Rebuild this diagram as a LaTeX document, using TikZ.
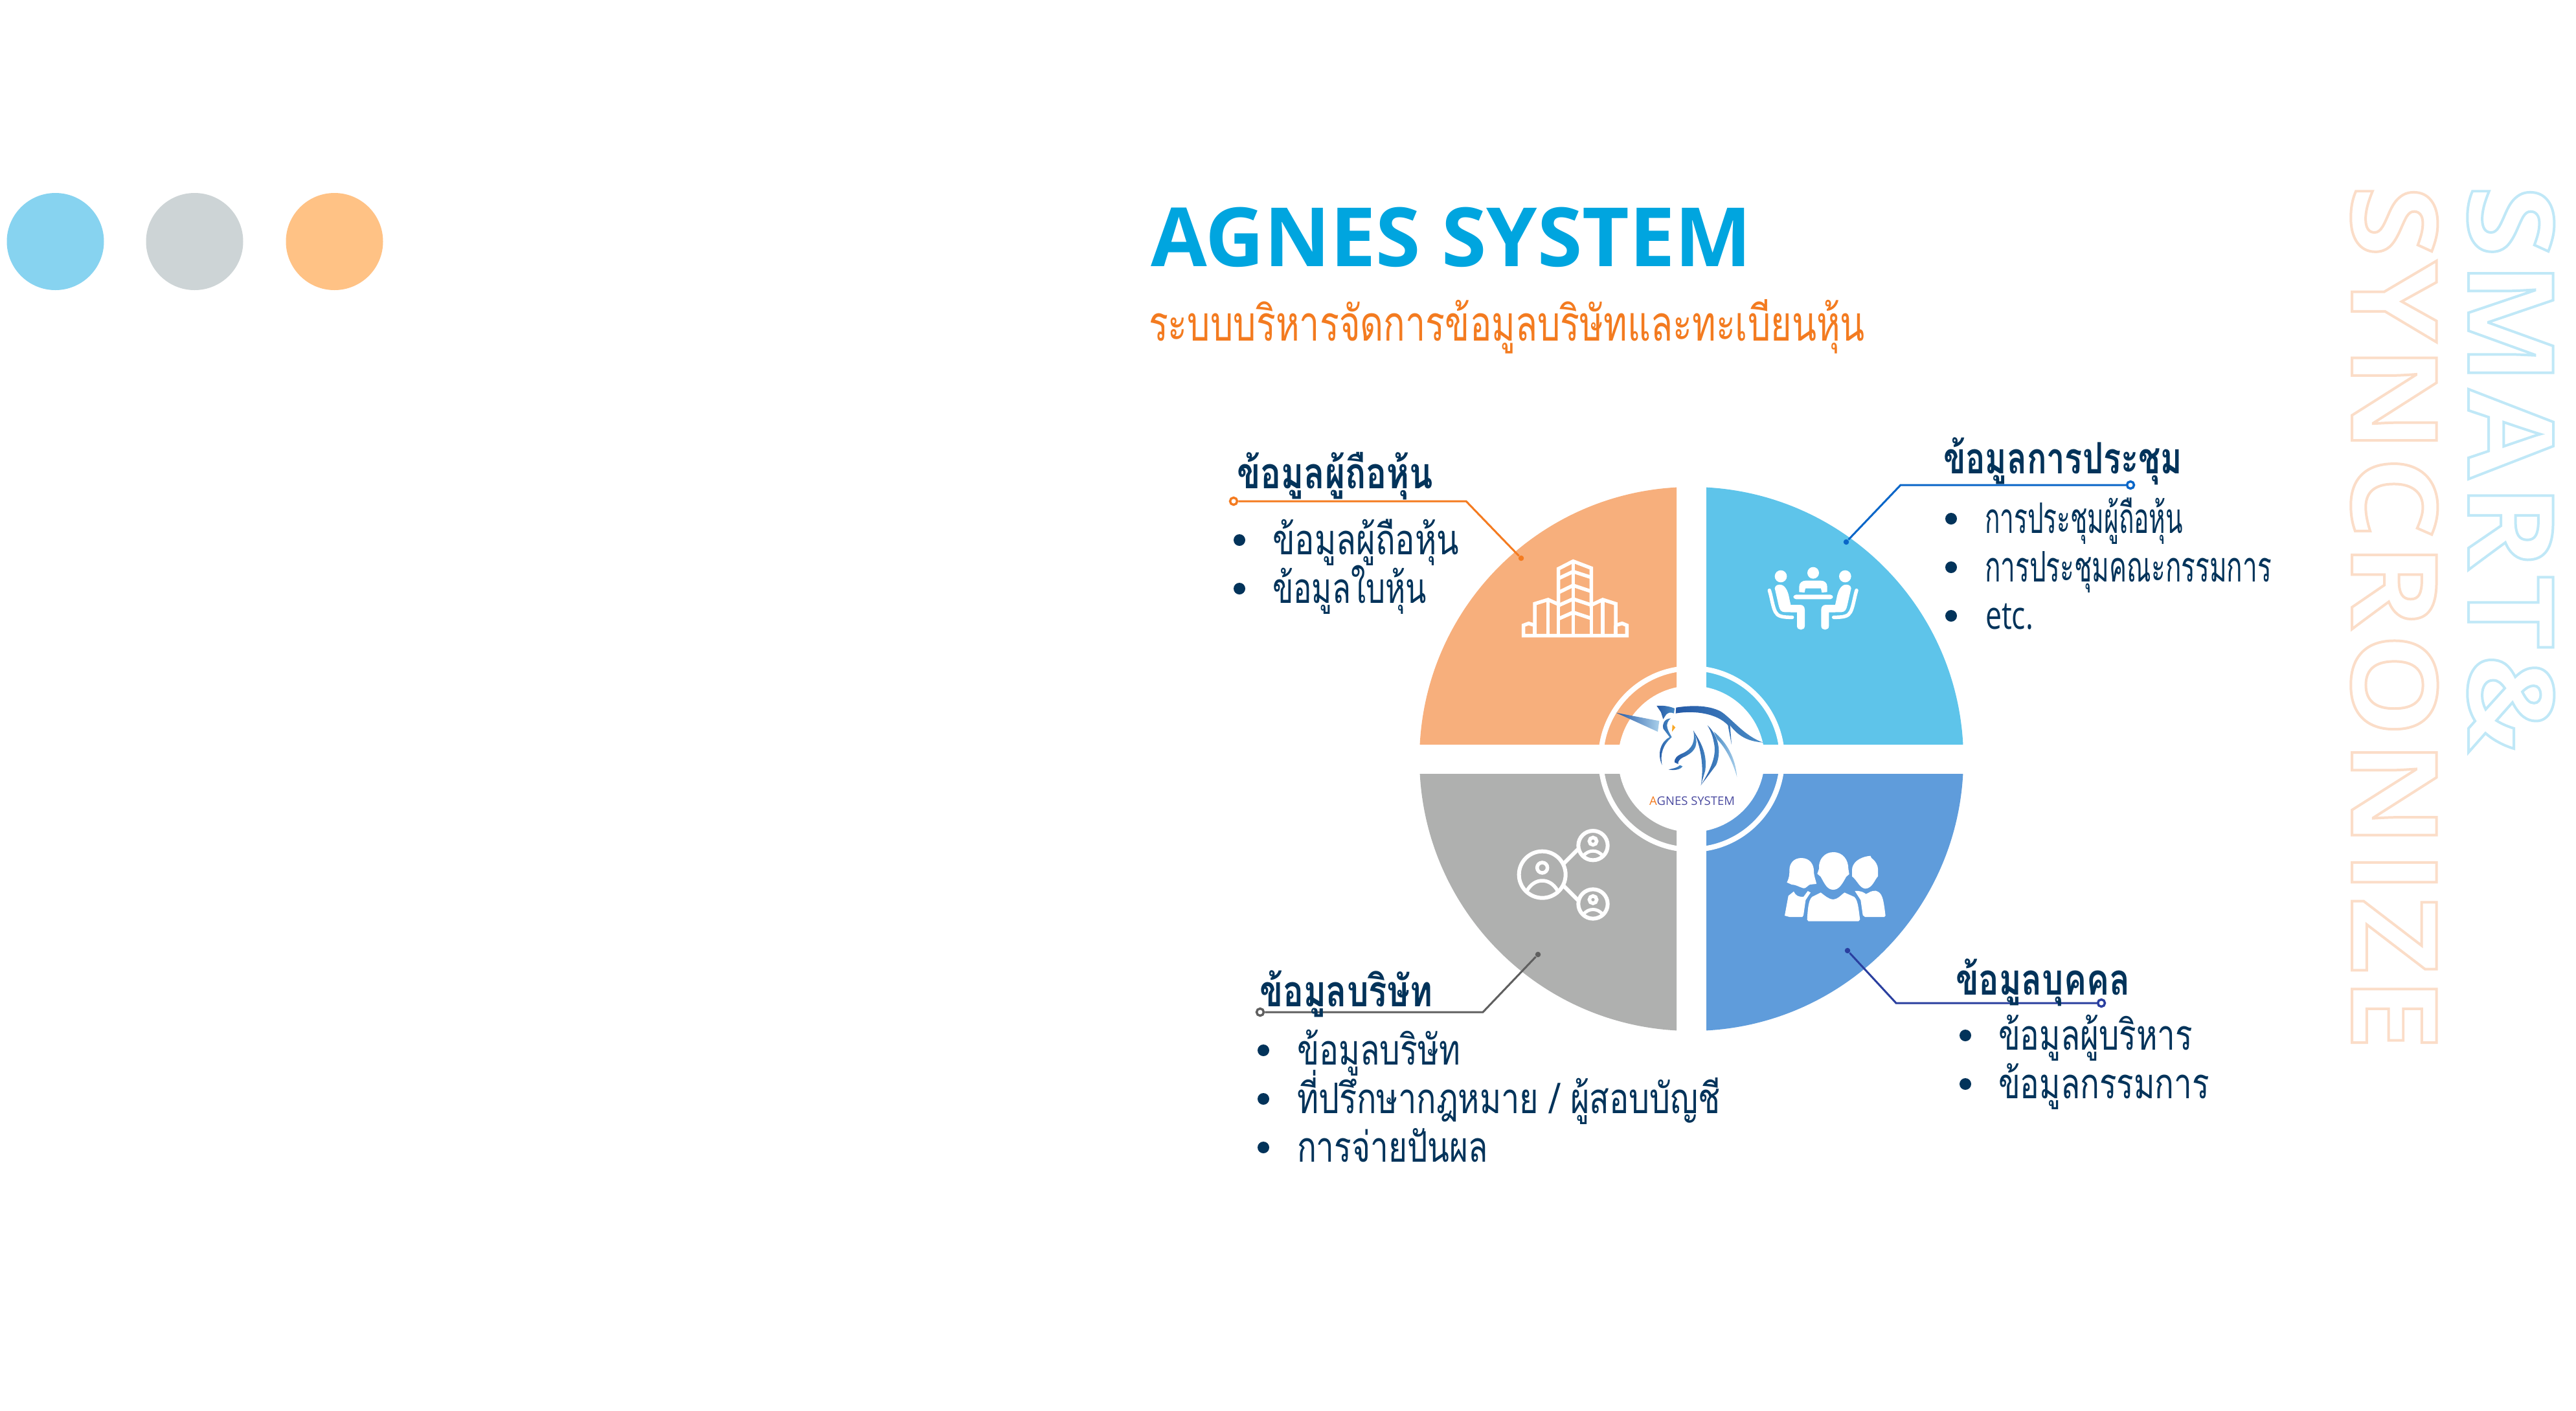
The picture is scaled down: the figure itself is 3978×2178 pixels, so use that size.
\documentclass[tikz,border=0pt]{standalone}
\usepackage{graphicx}
\usepackage{fontspec}
\setmainfont{Open Sans}
\newfontfamily\thaifont[Script=Thai]{Loma}
\newfontfamily\sideA[LetterSpace=4,FakeStretch=1.1]{Open Sans}
\newfontfamily\sideB[LetterSpace=3.4,FakeStretch=1.1]{Open Sans}
\newdimen\pxu \pxu=0.01cm
\definecolor{navy}{HTML}{02335A}
\definecolor{titleBlue}{HTML}{00A5DF}
\definecolor{subOrange}{HTML}{F37B20}
\definecolor{logoPurple}{HTML}{4B4BA0}
\definecolor{secOrange}{HTML}{F7AF7C}
\definecolor{secCyan}{HTML}{5EC4EA}
\definecolor{secBlue}{HTML}{5F9CDB}
\definecolor{secGray}{HTML}{AFB0AF}
\definecolor{lnOrange}{HTML}{F47B20}
\definecolor{lnBlue}{HTML}{0A66C8}
\definecolor{lnIndigo}{HTML}{2A3F9F}
\definecolor{lnGray}{HTML}{5F5F5F}
\definecolor{uniD}{HTML}{2459A6}
\definecolor{uniM}{HTML}{4A8CC6}
\definecolor{uniL}{HTML}{A9CFEA}
\definecolor{dotCyan}{HTML}{87D3F0}
\definecolor{dotGray}{HTML}{CDD4D6}
\definecolor{dotOrange}{HTML}{FFC285}
\definecolor{eyeAmber}{HTML}{F9A825}
\tikzset{
  txt/.style={anchor=base west,inner sep=0pt,outer sep=0pt},
  bulletdot/.style={circle,fill=navy,draw=none,inner sep=0pt,minimum size=0.18cm},
  ringend/.style={circle,draw=#1,fill=white,line width=0.035cm,inner sep=0pt,minimum size=0.11cm},
  enddot/.style={circle,fill=#1,draw=none,inner sep=0pt,minimum size=0.085cm},
  conn/.style={draw=#1,line width=0.03cm,line join=miter},
  icon/.style={draw=white,line width=0.055cm,line join=miter,fill=none},
  uni/.style={draw=none,left color=uniD,right color=uniM},
}
\newcommand{\tx}[6]{\node[txt,text=#5] (#1) at (#2,#3) {\resizebox{#4\pxu}{\height}{#6}};}
% Thai text: Loma's side bearings and baseline are offset by a few px from the reference
\newcommand{\thx}[7]{\node[txt,text=#5,xshift=-0.03cm,yshift=-0.03cm] (#1) at (#2,#3) {\resizebox{\dimexpr#4\pxu+6\pxu\relax}{\height}{\thaifont#6\selectfont #7}};}
\begin{document}
\begin{tikzpicture}[x=0.01cm,y=-0.01cm]
\useasboundingbox (0,0) rectangle (3978,2178);
% top-left dots
\fill[fill=white] (0,0) rectangle (3978,2178);
\fill[dotCyan] (85.5,373) circle[radius=75];
\fill[dotGray] (300.5,373) circle[radius=75];
\fill[dotOrange] (516.5,373) circle[radius=75];
% title
\tx{title}{1777}{411}{928}{titleBlue}{\bfseries\fontsize{35.9pt}{40pt}\selectfont AGNES SYSTEM}
\thx{subtitle}{1777}{523}{1100}{subOrange}{\fontsize{21.5pt}{24pt}}{ระบบบริหารจัดการข้อมูลบริษัทและทะเบียนหุ้น}
% side outline words
\node[txt,rotate=-90] (sideone) at (3812,286) {\special{pdf:literal direct 1 Tr 1.13 w 0.753 0.91 0.969 RG}\sideA\bfseries\fontsize{52pt}{60pt}\selectfont SMART\&\special{pdf:literal direct 0 Tr}};
\node[txt,rotate=-90] (sidetwo) at (3632,286) {\special{pdf:literal direct 1 Tr 1.13 w 0.984 0.867 0.784 RG}\sideB\bfseries\fontsize{52pt}{60pt}\selectfont SYNCRONIZE\special{pdf:literal direct 0 Tr}};
% quadrants
\begin{scope}\clip (2192,751) rectangle (2589,1149); \fill[secOrange] (2612,1172) circle[radius=420]; \end{scope}
\begin{scope}\clip (2635,751) rectangle (3032,1149); \fill[secCyan] (2612,1172) circle[radius=420]; \end{scope}
\begin{scope}\clip (2192,1195) rectangle (2589,1592); \fill[secGray] (2612,1172) circle[radius=420]; \end{scope}
\begin{scope}\clip (2635,1195) rectangle (3032,1592); \fill[secBlue] (2612,1172) circle[radius=420]; \end{scope}
\draw[white,line width=0.08cm] (2612,1172) circle[radius=140];
\fill[white] (2612,1172) circle[radius=113];
% building icon
\begin{scope}[shift={(2250,800)},scale=0.3333]
\draw[icon] (308,545) -- (787,545) -- (787,497) -- (765,488) -- (735,497) -- (735,397) -- (675,378) -- (622,403) -- (622,232) -- (538,200) -- (470,235) -- (470,400) -- (422,378) -- (360,397) -- (360,497) -- (332,488) -- (308,497) -- cycle;
\draw[icon] (360,497) -- (360,545) (735,497) -- (735,545) (421,378) -- (421,545) (675,378) -- (675,545) (470,400) -- (470,545) (622,403) -- (622,545) (538,200) -- (538,545);
\draw[icon] (470,280) -- (538,248) -- (622,275) (470,345) -- (538,312) -- (622,340) (470,405) -- (538,375) -- (622,403) (470,467) -- (538,437) -- (622,465);
\end{scope}
% meeting icon
\begin{scope}[shift={(2680,820)},scale=0.3333]
\fill[white] (210,210) circle[radius=28] (360,194) circle[radius=27] (508,210) circle[radius=28];
\fill[white,rounded corners=1.2pt] (268,295) rectangle (452,316);
\fill[white] (295,283) -- (295,258) .. controls (295,240) and (310,230) .. (325,230) -- (395,230) .. controls (412,230) and (425,240) .. (425,258) -- (425,283) -- (400,285) -- (396,266) -- (324,266) -- (320,285) -- cycle;
\def\seatpath{(182,265) .. controls (184,250) and (200,246) .. (215,250) .. controls (235,258) and (245,285) .. (250,315) -- (256,342) -- (298,342) .. controls (312,342) and (321,350) .. (321,365) -- (321,440) .. controls (321,463) and (285,463) .. (285,440) -- (285,377) -- (228,376) .. controls (210,375) and (205,365) .. (200,345) -- cycle}
\def\chairpath{(157,275) .. controls (168,310) and (172,350) .. (185,375) .. controls (195,395) and (215,400) .. (263,400)}
\fill[white] \seatpath;
\draw[white,line width=0.055cm,line cap=round] \chairpath;
\begin{scope}[shift={(718,0)},xscale=-1]
\fill[white] \seatpath;
\draw[white,line width=0.055cm,line cap=round] \chairpath;
\end{scope}
\end{scope}
% people icon
\begin{scope}[shift={(2720,1290)},scale=0.3333]
\fill[white] (333,78) .. controls (380,78) and (403,115) .. (403,155) -- (407,180) -- (393,192) .. controls (375,225) and (360,252) .. (333,252) .. controls (305,252) and (293,225) .. (275,192) -- (259,178) -- (267,155) .. controls (263,115) and (290,78) .. (333,78) -- cycle;
\fill[white] (212,390) .. controls (215,340) and (218,300) .. (235,285) -- (275,265) .. controls (295,280) and (310,295) .. (333,297) .. controls (355,295) and (365,280) .. (385,265) -- (430,285) .. controls (448,300) and (450,340) .. (457,390) -- (450,398) -- (218,398) -- cycle;
\fill[white] (185,105) .. controls (225,105) and (243,135) .. (243,165) .. controls (243,190) and (255,215) .. (255,225) -- (225,228) .. controls (215,232) and (205,248) .. (195,245) .. controls (175,240) and (160,228) .. (140,228) -- (118,218) .. controls (130,195) and (130,180) .. (130,160) .. controls (130,130) and (150,105) .. (185,105) -- cycle;
\fill[white] (108,372) -- (125,280) -- (150,260) .. controls (160,280) and (170,285) .. (195,285) -- (215,258) -- (228,265) -- (205,300) -- (195,370) -- (190,378) -- (130,378) -- cycle;
\fill[white] (505,95) -- (510,105) .. controls (530,120) and (540,140) .. (540,155) -- (540,190) .. controls (525,205) and (515,245) .. (482,247) .. controls (455,245) and (445,210) .. (420,190) -- (420,160) .. controls (420,130) and (450,100) .. (505,95) -- cycle;
\fill[white] (433,258) .. controls (460,255) and (475,265) .. (485,272) .. controls (500,265) and (510,255) .. (530,257) .. controls (560,265) and (565,290) .. (575,372) -- (570,378) -- (480,378) -- (470,370) -- (460,300) -- cycle;
\end{scope}
% network icon
\begin{scope}[shift={(2320,1260)},scale=0.3333]
\draw[icon,line width=0.06cm] (185,272) circle[radius=108] (420,137) circle[radius=68] (420,408) circle[radius=68];
\draw[icon,line width=0.06cm] (285,220) -- (350,155) (285,325) -- (350,390);
\draw[icon,line width=0.055cm] (185,240) circle[radius=24] (420,117) circle[radius=17] (420,388) circle[radius=17];
\draw[icon,line width=0.055cm] (115,345) .. controls (150,285) and (220,285) .. (255,345);
\draw[icon,line width=0.05cm] (375,185) .. controls (400,155) and (440,155) .. (465,185);
\draw[icon,line width=0.05cm] (375,456) .. controls (400,426) and (440,426) .. (465,456);
\end{scope}
% unicorn logo
\begin{scope}[shift={(2350,950)},scale=0.3333]
\shade[draw=none,left color=uniD,right color=uniL] (437,452) -- (637,490) -- (630,540) -- cycle;
\shade[uni] (625,420) .. controls (650,418) and (680,420) .. (708,432) -- (705,455) .. controls (690,448) and (675,452) .. (668,462) -- (655,482) -- (645,450) -- cycle;
\shade[uni] (715,428) .. controls (780,418) and (860,415) .. (920,445) .. controls (970,475) and (1030,560) .. (1118,590) .. controls (1060,585) and (1010,570) .. (965,510) -- (972,600) -- (955,510) .. controls (905,455) and (800,440) .. (713,455) -- cycle;
\shade[uni] (690,478) .. controls (660,480) and (650,505) .. (655,525) -- (685,565) .. controls (645,585) and (625,640) .. (650,695) .. controls (640,640) and (655,600) .. (695,565) .. controls (675,530) and (660,505) .. (690,478) -- cycle;
\fill[eyeAmber] (698,507) -- (712,520) -- (696,540) -- cycle;
\shade[uni] (795,535) .. controls (820,590) and (815,630) .. (745,660) .. controls (730,668) and (722,680) .. (725,690) -- (708,682) .. controls (705,665) and (720,650) .. (745,640) .. controls (790,620) and (805,585) .. (795,535) -- cycle;
\shade[uni] (680,715) .. controls (705,710) and (725,705) .. (732,695) -- (745,700) .. controls (735,718) and (700,720) .. (680,715) -- cycle;
\shade[uni] (795,535) .. controls (830,590) and (860,640) .. (850,720) -- (830,788) .. controls (845,700) and (830,610) .. (795,535) -- cycle;
\shade[uni] (860,510) .. controls (915,560) and (925,640) .. (900,695) -- (830,788) .. controls (875,715) and (905,650) .. (890,590) .. controls (885,560) and (875,535) .. (860,510) -- cycle;
\shade[draw=none,left color=uniM,right color=uniL] (890,540) .. controls (950,590) and (990,660) .. (997,750) .. controls (975,670) and (940,610) .. (905,575) -- cycle;
\end{scope}
\tx{logotext}{2547}{1243}{132}{logoPurple}{\fontsize{5.2pt}{6pt}\selectfont \textcolor{lnOrange}{A}GNES SYSTEM}
% connectors
\node[ringend=lnOrange] (endA) at (1905,774) {};
\node[enddot=lnOrange] (dotA) at (2349,862) {};
\coordinate (kneeA) at (2264,774);
\draw[conn=lnOrange] (endA) -- (kneeA) -- (dotA);
\node[ringend=lnBlue] (endB) at (3290,749) {};
\node[enddot=lnBlue] (dotB) at (2851,837) {};
\coordinate (kneeB) at (2935,749);
\draw[conn=lnBlue] (endB) -- (kneeB) -- (dotB);
\node[ringend=lnGray] (endC) at (1946,1563) {};
\node[enddot=lnGray] (dotC) at (2375,1474) {};
\coordinate (kneeC) at (2290,1563);
\draw[conn=lnGray] (endC) -- (kneeC) -- (dotC);
\node[ringend=lnIndigo] (endD) at (3245,1549) {};
\node[enddot=lnIndigo] (dotD) at (2853,1468) {};
\coordinate (kneeD) at (2928,1549);
\draw[conn=lnIndigo] (endD) -- (kneeD) -- (dotD);
% group: shareholders
\thx{headA}{1913}{751}{297}{navy}{\bfseries\fontsize{19pt}{24pt}}{ข้อมูลผู้ถือหุ้น}
\node[bulletdot] (bA1) at (1914,834) {};
\node[bulletdot] (bA2) at (1914,909) {};
\thx{itemA1}{1968}{853}{282}{navy}{\fontsize{18.5pt}{24pt}}{ข้อมูลผู้ถือหุ้น}
\thx{itemA2}{1968}{928}{232}{navy}{\fontsize{18.5pt}{24pt}}{ข้อมูลใบหุ้น}
% group: meetings
\thx{headB}{3004}{728}{363}{navy}{\bfseries\fontsize{19pt}{24pt}}{ข้อมูลการประชุม}
\node[bulletdot] (bB1) at (3013,801) {};
\node[bulletdot] (bB2) at (3013,876) {};
\node[bulletdot] (bB3) at (3013,951) {};
\thx{itemB1}{3068}{820}{300}{navy}{\fontsize{18.5pt}{24pt}}{การประชุมผู้ถือหุ้น}
\thx{itemB2}{3068}{895}{437}{navy}{\fontsize{18.5pt}{24pt}}{การประชุมคณะกรรมการ}
\tx{itemB3}{3066}{971}{74}{navy}{\fontsize{17pt}{20pt}\selectfont etc.}
% group: company
\thx{headC}{1948}{1551}{261}{navy}{\bfseries\fontsize{19pt}{24pt}}{ข้อมูลบริษัท}
\node[bulletdot] (bC1) at (1951,1622) {};
\node[bulletdot] (bC2) at (1951,1697) {};
\node[bulletdot] (bC3) at (1951,1772) {};
\thx{itemC1}{2006}{1641}{246}{navy}{\fontsize{18.5pt}{24pt}}{ข้อมูลบริษัท}
\thx{itemC2}{2006}{1716}{648}{navy}{\fontsize{18.5pt}{24pt}}{ที่ปรึกษากฎหมาย / ผู้สอบบัญชี}
\thx{itemC3}{2006}{1791}{289}{navy}{\fontsize{18.5pt}{24pt}}{การจ่ายปันผล}
% group: people
\thx{headD}{3023}{1533}{263}{navy}{\bfseries\fontsize{19pt}{24pt}}{ข้อมูลบุคคล}
\node[bulletdot] (bD1) at (3035,1599) {};
\node[bulletdot] (bD2) at (3035,1674) {};
\thx{itemD1}{3089}{1618}{294}{navy}{\fontsize{18.5pt}{24pt}}{ข้อมูลผู้บริหาร}
\thx{itemD2}{3089}{1693}{320}{navy}{\fontsize{18.5pt}{24pt}}{ข้อมูลกรรมการ}
\end{tikzpicture}
\end{document}
